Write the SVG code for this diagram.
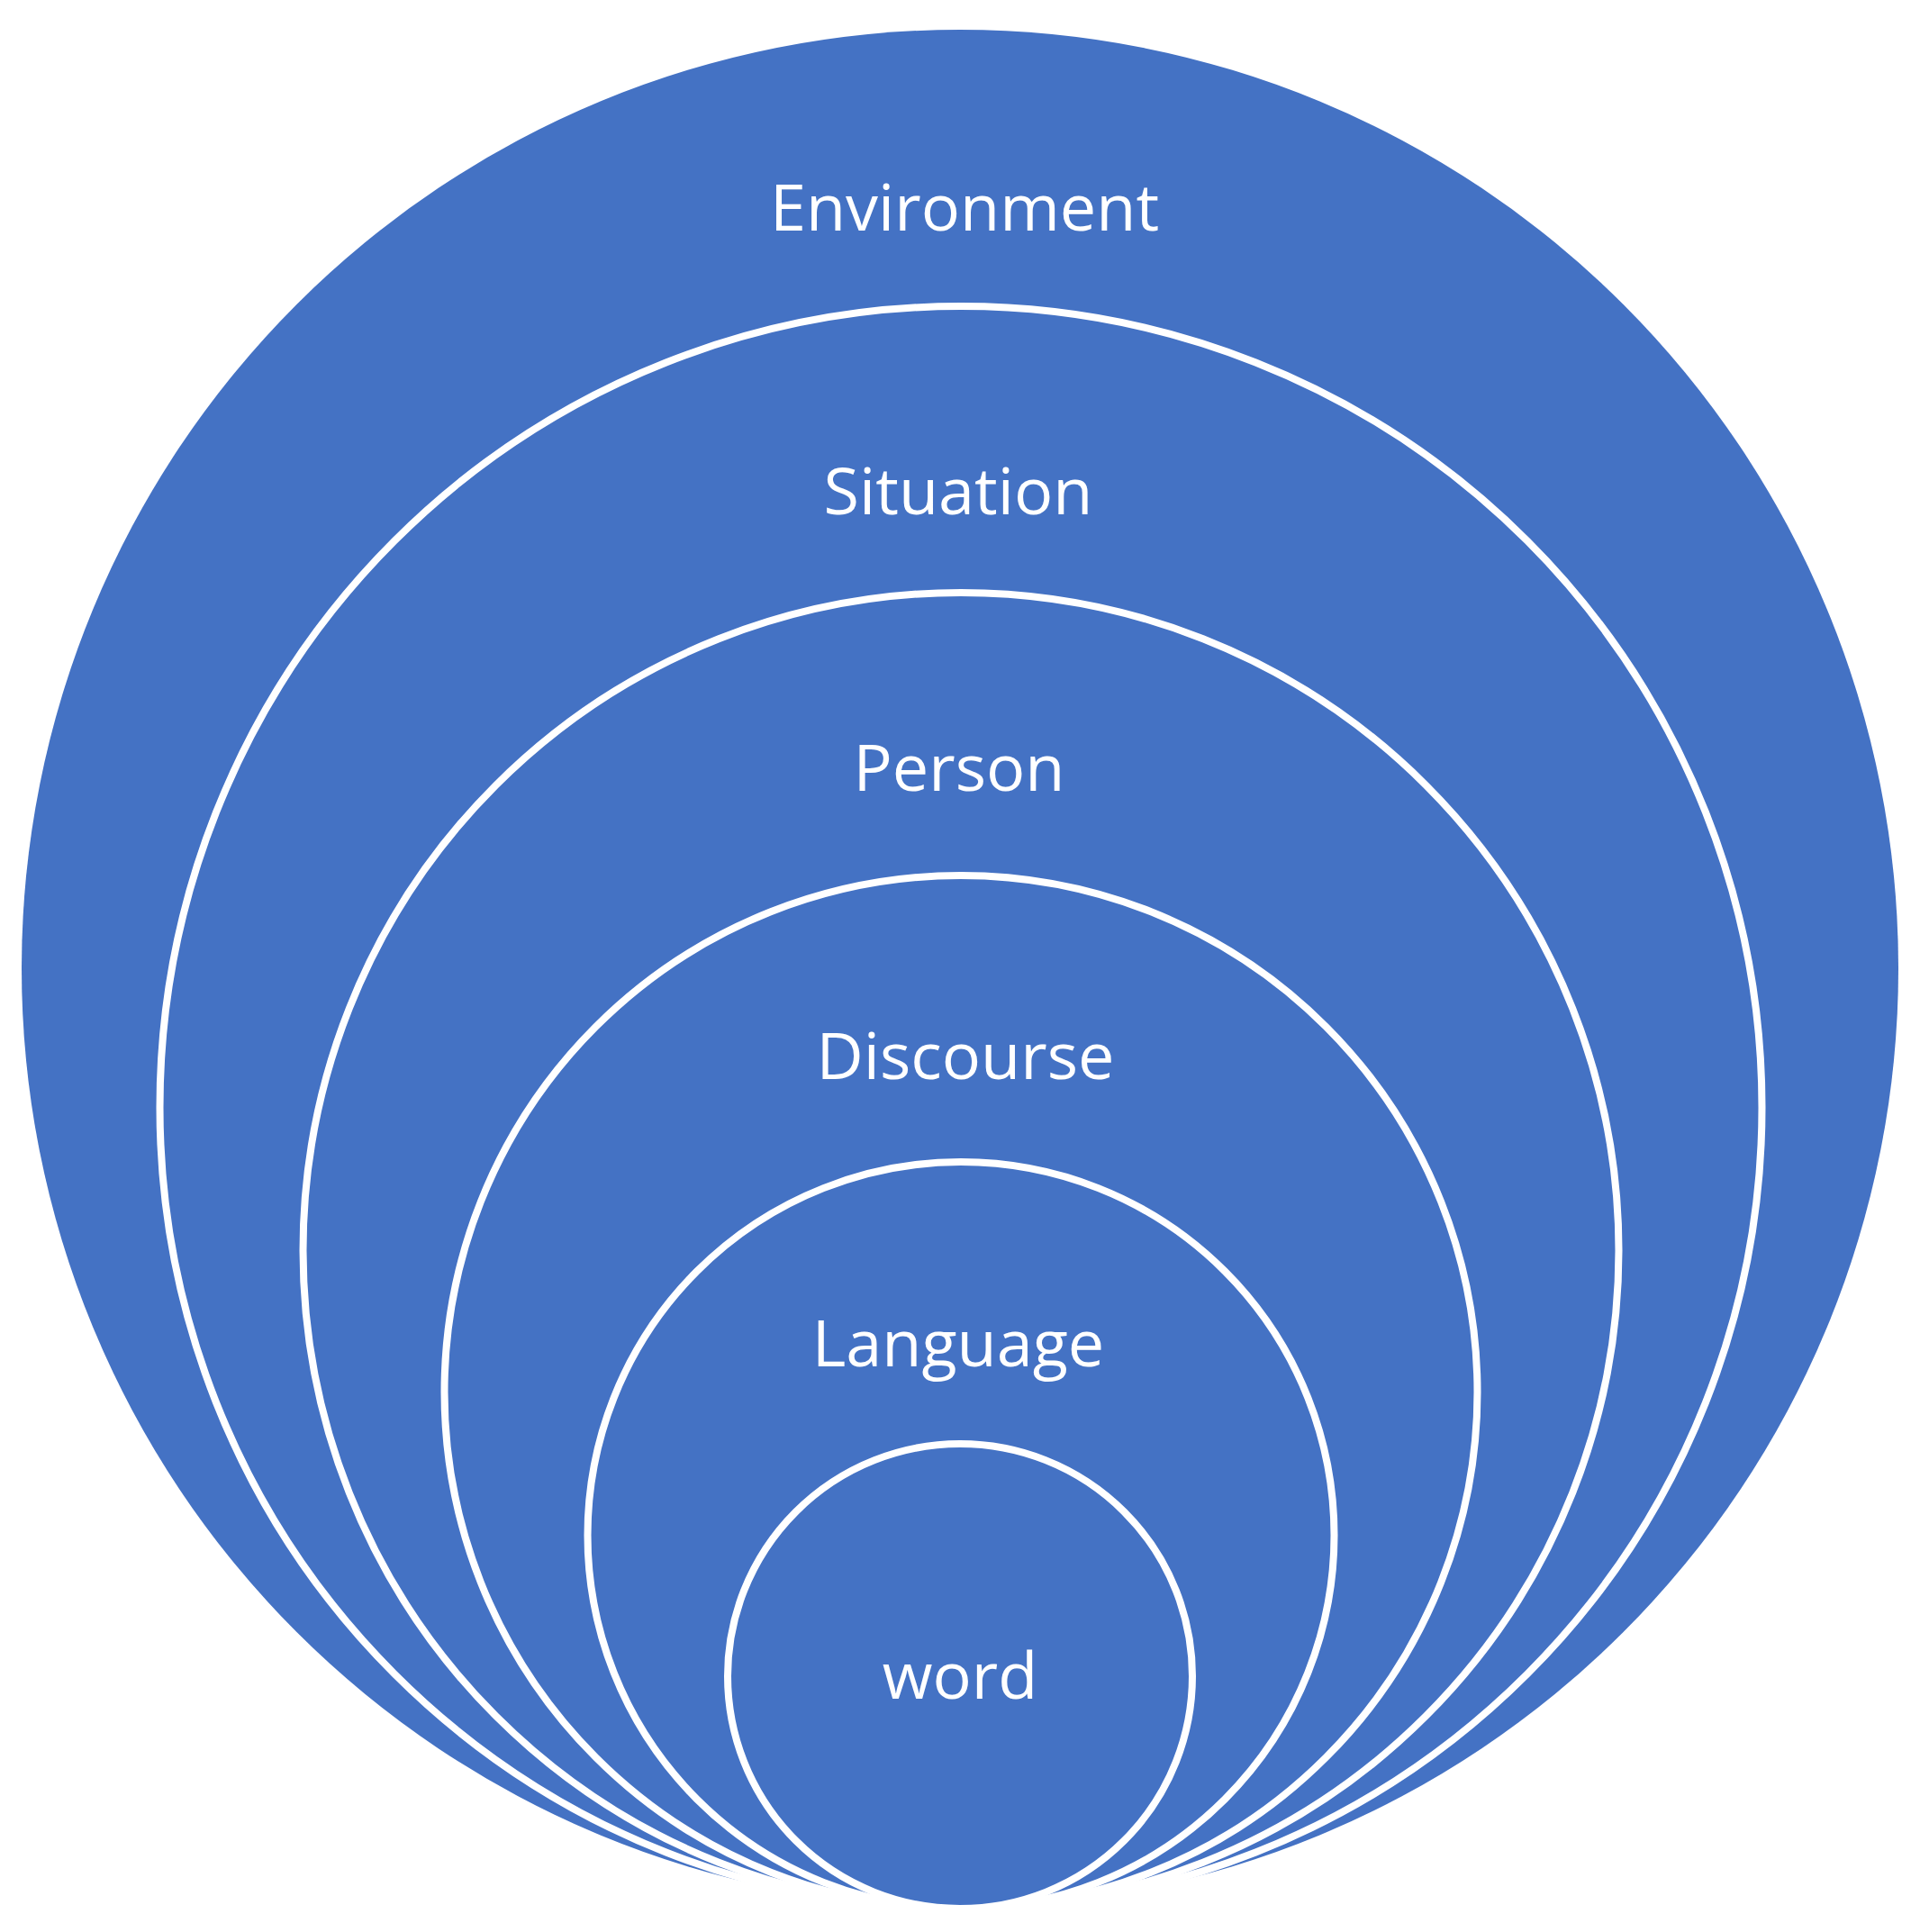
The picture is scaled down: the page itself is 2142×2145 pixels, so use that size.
<svg xmlns="http://www.w3.org/2000/svg" width="2142" height="2145" viewBox="0 0 2142 2145">
<style>
.bg{fill:#ffffff}
.outer{fill:#4472C4;stroke:none}
.ring{fill:#4472C4;stroke:#ffffff;stroke-width:8}
.lbl{font-family:"Open Sans","Noto Sans","Liberation Sans",sans-serif;font-size:72px;font-weight:500;fill:#ffffff;text-anchor:middle}
</style>
<rect class="bg" x="0" y="0" width="2142" height="2145"/>
<g id="environment">
<circle class="outer" cx="1066" cy="1075" r="1042"/>
<text class="lbl" x="1071" y="256">Environment</text>
</g>
<g id="situation">
<circle class="ring" cx="1067" cy="1229.5" r="889.5"/>
<text class="lbl" x="1064" y="571">Situation</text>
</g>
<g id="person">
<circle class="ring" cx="1067" cy="1388.5" r="730.5"/>
<text class="lbl" x="1065" y="878">Person</text>
</g>
<g id="discourse">
<circle class="ring" cx="1067" cy="1545.5" r="573.5"/>
<text class="lbl" x="1072" y="1198">Discourse</text>
</g>
<g id="language">
<circle class="ring" cx="1067" cy="1704.5" r="414.5"/>
<text class="lbl" x="1064" y="1517">Language</text>
</g>
<g id="word">
<circle class="ring" cx="1066" cy="1861" r="258"/>
<text class="lbl" x="1066" y="1886">word</text>
</g>
</svg>
